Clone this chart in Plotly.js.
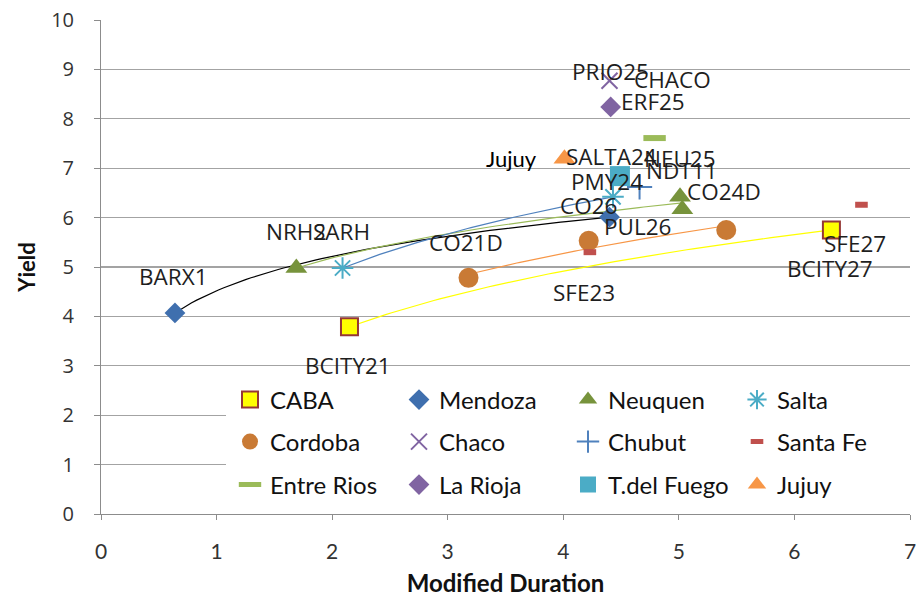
<!DOCTYPE html>
<html>
<head>
<meta charset="utf-8">
<script src="https://cdn.plot.ly/plotly-3.0.1.min.js"></script>
<style>html,body{margin:0;padding:0;background:#fff;}#chart{width:921px;height:597px;}</style>
</head>
<body>
<div id="chart"></div>
<script>
// ---------- data ----------
const seriesNames = ['CABA','Mendoza','Neuquen','Salta','Cordoba','Chaco','Chubut','Santa Fe','Entre Rios','La Rioja','T.del Fuego','Jujuy'];

const cabaX = [2.15, 6.32];        const cabaY = [3.79, 5.75];
const mendozaX = [0.64, 4.40];     const mendozaY = [4.07, 6.01];
const neuquenX = [1.69, 5.01, 5.03]; const neuquenY = [4.98, 6.42, 6.17];
const saltaX = [2.09, 4.43];       const saltaY = [4.98, 6.42];
const cordobaX = [3.18, 4.22, 5.41]; const cordobaY = [4.78, 5.53, 5.75];
const chacoX = [4.40];             const chacoY = [8.77];
const chubutX = [4.66];            const chubutY = [6.62];
const santaFeX = [4.23, 6.58];     const santaFeY = [5.30, 6.26];
const entreRiosX = [4.79];         const entreRiosY = [7.61];
const laRiojaX = [4.41];           const laRiojaY = [8.24];
const fuegoX = [4.49];             const fuegoY = [6.84];
const jujuyX = [4.01];             const jujuyY = [7.19];

// point labels: [series index, point index, text]
const pointLabels = [
  [0,0,'BCITY21'],[0,1,'BCITY27'],
  [1,0,'BARX1'],[1,1,'CO26'],[1,1,'PUL26'],
  [2,0,'NRH2'],[2,1,'CO24D'],
  [3,0,'SARH'],[3,1,'SALTA24'],
  [4,0,'CO21D'],
  [5,0,'PRIO25'],[5,0,'CHACO'],
  [6,0,'NDT11'],
  [7,0,'SFE23'],[7,1,'SFE27'],
  [8,0,'NEU25'],
  [9,0,'ERF25'],
  [10,0,'PMY24'],
  [11,0,'Jujuy']
];
const trendSeries = [0,1,2,3,4]; // series carrying logarithmic trendlines

// ---------- styles ----------
const labelOffsets = [ // [dx, dy] in px (dy positive = down)
  [-1,39],[-1,39],
  [-1,-36],[-21,-12],[28,9],
  [0,-36],[44,-5],
  [-1,-36],[-1,-40],
  [-3,-35],
  [1,-9],[63,-1],
  [42,-16],
  [-6,40],[-6,39],
  [25,20],
  [42,-5],
  [-13,5],
  [-53,0]
];
const xs = [cabaX,mendozaX,neuquenX,saltaX,cordobaX,chacoX,chubutX,santaFeX,entreRiosX,laRiojaX,fuegoX,jujuyX];
const ys = [cabaY,mendozaY,neuquenY,saltaY,cordobaY,chacoY,chubutY,santaFeY,entreRiosY,laRiojaY,fuegoY,jujuyY];
const markers = [
  {symbol:'square', size:17, color:'#ffff00', line:{color:'#953735', width:2}},
  {symbol:'diamond', size:16, color:'#3f6fae', line:{width:0}},
  {symbol:'triangle-up', size:19, color:'#77933c', line:{width:0}},
  {symbol:'asterisk-open', size:18, color:'#4bacc6', line:{color:'#4bacc6', width:2}},
  {symbol:'circle', size:20, color:'#c97a35', line:{width:0}},
  {symbol:'x-thin-open', size:16, color:'#8064a2', line:{color:'#8064a2', width:2}},
  {symbol:'cross-thin-open', size:18, color:'#4f81bd', line:{color:'#4f81bd', width:2}},
  {symbol:'line-ew-open', size:9, color:'#c0504d', line:{color:'#c0504d', width:6}},
  {symbol:'line-ew-open', size:16, color:'#9bbb59', line:{color:'#9bbb59', width:6}},
  {symbol:'diamond', size:16, color:'#8064a2', line:{width:0}},
  {symbol:'square', size:20, color:'#4bacc6', line:{width:0}},
  {symbol:'triangle-up', size:19, color:'#f79646', line:{width:0}}
];
const trendColors = {0:'#ffff00', 1:'#000000', 2:'#9bbb59', 3:'#4f81bd', 4:'#f79646'};
const legendRows = ['legend','legend2','legend3'];

// logarithmic least-squares trendline (as Excel) from the data
function logFit(x, y){
  const n = x.length; let sl=0, sy=0, sly=0, sll=0;
  for(let i=0;i<n;i++){const l=Math.log(x[i]); sl+=l; sy+=y[i]; sly+=l*y[i]; sll+=l*l;}
  const b = (n*sly - sl*sy)/(n*sll - sl*sl); const a = (sy - b*sl)/n;
  return {a,b};
}
const traces = [];
trendSeries.forEach(si=>{
  const f = logFit(xs[si], ys[si]);
  const lo = Math.min(...xs[si]), hi = Math.max(...xs[si]);
  const tx=[], ty=[];
  for(let k=0;k<=80;k++){const v = lo + (hi-lo)*k/80; tx.push(v); ty.push(f.a + f.b*Math.log(v));}
  traces.push({x:tx, y:ty, mode:'lines', line:{color:trendColors[si], width:1.2}, showlegend:false, hoverinfo:'skip'});
});
seriesNames.forEach((nm,i)=>{
  traces.push({x:xs[i], y:ys[i], name:nm, type:'scatter', mode:'markers', marker:markers[i],
               legend: legendRows[Math.floor(i/4)]});
});

const annotations = pointLabels.map((pl,k)=>{
  const isJ = pl[2]==='Jujuy';
  return {
    x: xs[pl[0]][pl[1]], y: ys[pl[0]][pl[1]], xref:'x', yref:'y', text: pl[2], showarrow:false,
    xanchor:'center', yanchor:'middle', xshift: labelOffsets[k][0], yshift: -labelOffsets[k][1],
    font: isJ ? {family:'Lato, sans-serif', size:22, color:'#000'}
              : {family:'"Open Sans", sans-serif', size:22.5, color:'#1e1e1e'}
  };
});

function legendAt(yc){
  return {
    orientation:'h', x:1, xanchor:'right', y:yc, yanchor:'middle',
    bgcolor:'#ffffff', bordercolor:'#ffffff', borderwidth:4, entrywidth:124, entrywidthmode:'pixels',
    font:{family:'Lato, sans-serif', size:24, color:'#111'}, traceorder:'normal'
  };
}

const layout = {
  width:921, height:597,
  margin:{l:101, r:11, t:20, b:83},
  paper_bgcolor:'#ffffff', plot_bgcolor:'#ffffff',
  showlegend:true,
  xaxis:{
    range:[0,7], dtick:1, tick0:0, showgrid:false, zeroline:false,
    showline:true, linecolor:'#8c8c8c', linewidth:1,
    ticks:'outside', ticklen:5, tickcolor:'#8c8c8c',
    tickfont:{family:'"Liberation Sans Narrow", Lato, sans-serif', size:21, color:'#333'},
    ticklabelstandoff:14,
    title:{text:'Modified Duration', font:{family:'Lato, sans-serif', size:24, color:'#111', weight:700}, standoff:26}
  },
  yaxis:{
    range:[0,10], dtick:1, tick0:0, showgrid:true, gridcolor:'#a3a3a3', gridwidth:1.2, zeroline:false,
    showline:true, linecolor:'#8c8c8c', linewidth:1,
    ticks:'outside', ticklen:6, tickcolor:'#8c8c8c',
    tickfont:{family:'"Open Sans", sans-serif', size:20, color:'#333'},
    ticklabelstandoff:16,
    title:{text:'Yield', font:{family:'Lato, sans-serif', size:22, color:'#111', weight:700}, standoff:9}
  },
  legend: legendAt(0.2308),
  legend2: legendAt(0.1457),
  legend3: legendAt(0.0587),
  annotations: annotations
};
Plotly.newPlot('chart', traces, layout, {staticPlot:true, displayModeBar:false});
</script>
</body>
</html>
